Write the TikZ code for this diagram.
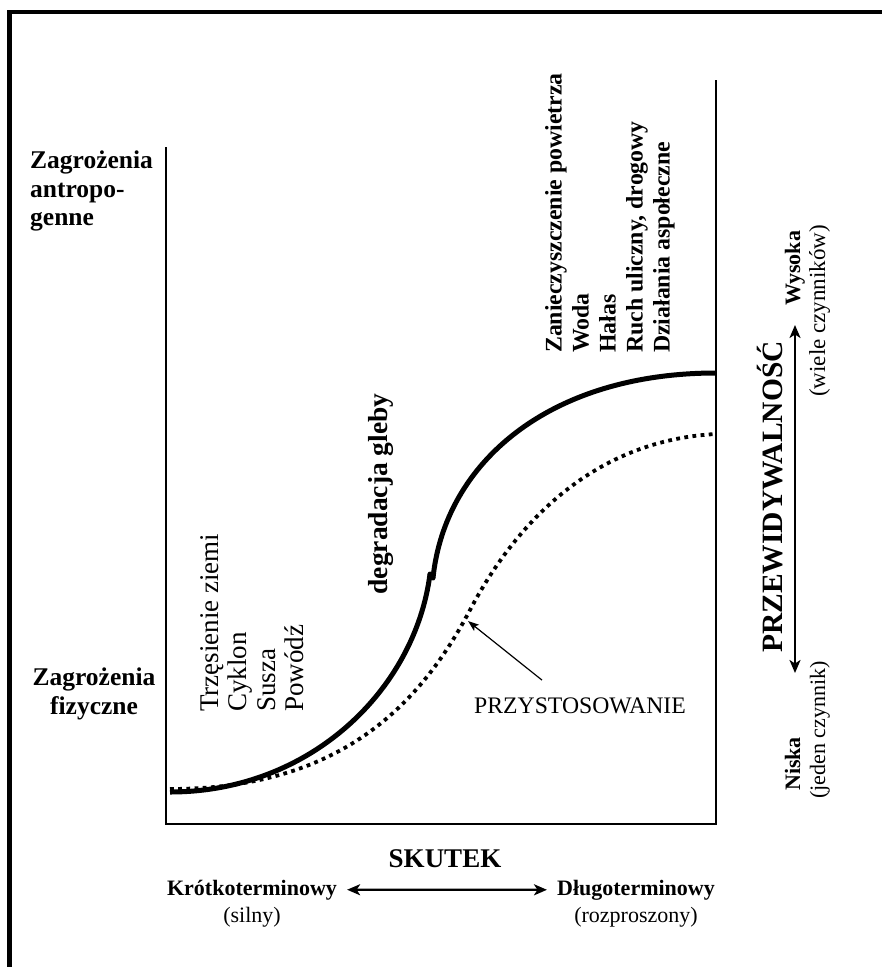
\documentclass[tikz,border=0pt]{standalone}
\usepackage{fontspec}
\setmainfont{Liberation Serif}
\usetikzlibrary{arrows.meta, positioning}
\newcommand{\fsz}[2]{\fontsize{#1pt}{#2pt}\selectfont}

\begin{document}
\begin{tikzpicture}[
  x=1pt, y=-1pt,
  txt/.style={inner sep=0pt, font=\fsz{22}{27}},
  btxt/.style={inner sep=0pt, font=\fsz{22}{27}\bfseries},
  side/.style={inner sep=0pt, font=\fsz{25.5}{28.5}\bfseries},
  vtxt/.style={txt, rotate=90},
  vbtxt/.style={btxt, rotate=90},
  axis/.style={line width=2.8pt},
  hazard/.style={line width=5pt},
  adapted/.style={line width=3.8pt, dash pattern=on 3.8pt off 4.4pt},
  ptr/.style={-{Stealth[length=11pt, width=8pt, inset=2.5pt]}, line width=1.2pt},
  darrow/.style={{Stealth[length=13pt, width=11pt, inset=3.5pt]}-{Stealth[length=13pt, width=11pt, inset=3.5pt]}, line width=2.2pt}
]
\useasboundingbox (0,0) rectangle (882,967);
\clip (0,0) rectangle (882,967);
\draw[line width=4.5pt] (9.5,12) rectangle (905,1000);

% axes
\coordinate (ytop) at (166,147);
\coordinate (orig) at (166,824);
\coordinate (xend) at (716,824);
\coordinate (rtop) at (716,80);
\draw[axis] (ytop) -- (orig) -- (xend) -- (rtop);

% curves
\coordinate (s0) at (170,792);
\coordinate (s1) at (430,574);
\coordinate (s2) at (433,578);
\coordinate (s3) at (716,373);
\draw[hazard] (s0) .. controls (310,792) and (415,690) .. (s1);
\draw[hazard, line cap=round] (s1) -- (s2);
\draw[hazard] (s2) .. controls (445,462) and (550,373) .. (s3);

\coordinate (d0) at (170,789);
\coordinate (d1) at (470,610);
\coordinate (d2) at (716,434);
\draw[adapted] (d0) .. controls (340,789) and (420,705) .. (d1) .. controls (520,515) and (600,440) .. (d2);

% hazard labels
\node[side, anchor=north west, align=left] (anthro) at (30,151) {Zagrożenia\\antropo-\\genne};
\node[side, anchor=north, align=center] (physical) at (94,668) {Zagrożenia\\fizyczne};

\node[vtxt, font=\fsz{27}{28.5}, anchor=south west, align=left] (natural) at (304,712) {Trzęsienie ziemi\\Cyklon\\Susza\\Powódź};
\node[vbtxt, font=\fsz{27.5}{30}\bfseries, anchor=base] (soil) at (387,494) {degradacja gleby};
\node[vbtxt, font=\fsz{23.8}{27}\bfseries, anchor=south west, align=left] (humanmade) at (675,353) {Zanieczyszczenie powietrza\\Woda\\Hałas\\Ruch uliczny, drogowy\\Działania aspołeczne};

\node[txt, font=\fsz{23.7}{28}, anchor=base] (adapt) at (580,713) {PRZYSTOSOWANIE};
\coordinate (adaptpt) at (468,621);
\draw[ptr] ([xshift=-38pt, yshift=17pt]adapt.north) -- (adaptpt);

% predictability
\node[vbtxt, font=\fsz{29.5}{34}\bfseries, anchor=base] (predict) at (782,497) {PRZEWIDYWALNOŚĆ};
\coordinate (phigh) at (795,325);
\coordinate (plow) at (795,673);
\draw[darrow] (plow) -- (phigh);
\node[vbtxt, anchor=base west] (high) at (800,306) {Wysoka};
\node[vtxt, font=\fsz{23}{27}, anchor=base west] (highnote) at (825,397) {(wiele czynników)};
\node[vbtxt, anchor=base west] (low) at (800,791) {Niska};
\node[vtxt, anchor=base west] (lownote) at (825,799) {(jeden czynnik)};

% effect
\node[btxt, font=\fsz{27}{32}\bfseries, anchor=base] (effect) at (445,867) {SKUTEK};
\node[btxt, anchor=base] (short) at (252,895) {Krótkoterminowy};
\node[btxt, anchor=base] (long) at (636,895) {Długoterminowy};
\node[txt, below=7pt of short] (strong) {(silny)};
\node[txt, below=7pt of long] (diffuse) {(rozproszony)};
\draw[darrow, shorten <=10pt, shorten >=10pt] (short.east) -- (long.west);
\end{tikzpicture}
\end{document}
